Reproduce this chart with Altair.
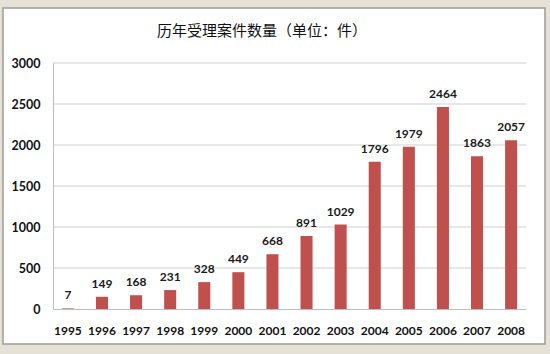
import altair as alt
import pandas as pd

years = ["1995", "1996", "1997", "1998", "1999", "2000", "2001",
         "2002", "2003", "2004", "2005", "2006", "2007", "2008"]
counts = [7, 149, 168, 231, 328, 449, 668, 891, 1029, 1796, 1979, 2464, 1863, 2057]
grid_values = [500, 1000, 1500, 2000, 2500, 3000]
title_text = "历年受理案件数量（单位：件）"

df = pd.DataFrame({"year": years, "count": counts})
grid_df = pd.DataFrame({"v": grid_values})

W, H = 473, 246

xscale = alt.Scale(domain=years, paddingInner=0.647, paddingOuter=0.26)
yscale = alt.Scale(domain=[0, 3000], nice=False)

panel = alt.Chart(alt.Data(values=[{}])).mark_rect(
    fill="white", stroke="#9c9c9c", strokeWidth=1.5
).encode(
    x=alt.value(-50), x2=alt.value(492), y=alt.value(-55), y2=alt.value(281)
)

title = alt.Chart(alt.Data(values=[{}])).mark_text(
    font="Noto Sans CJK SC", fontSize=15, color="#111111",
    align="center", baseline="middle"
).encode(
    x=alt.value(209), y=alt.value(-32), text=alt.value(title_text)
)

grid = alt.Chart(grid_df).mark_rule(color="#cfcfcf", strokeWidth=1).encode(
    y=alt.Y("v:Q", scale=yscale),
    x=alt.value(0), x2=alt.value(W),
)

bars = alt.Chart(df).mark_bar(color="#c0504d").encode(
    x=alt.X("year:N", scale=xscale, sort=years,
            axis=alt.Axis(title=None, labelAngle=0, ticks=False, labelPadding=16,
                          labelFont="Lato", labelFontWeight="bold", labelFontSize=12,
                          labelColor="#111111", domainColor="#bdbdbd", zindex=1)),
    y=alt.Y("count:Q", scale=yscale,
            axis=alt.Axis(title=None, values=[0, 500, 1000, 1500, 2000, 2500, 3000],
                          format="d", grid=False, ticks=False, labelPadding=13,
                          labelFont="Lato", labelFontWeight="bold", labelFontSize=12.5,
                          labelColor="#111111", domainColor="#bdbdbd", zindex=1)),
)

labels = alt.Chart(df).mark_text(
    font="Lato", fontWeight="bold", fontSize=12, color="#1a1a1a",
    baseline="alphabetic", dy=-9
).encode(
    x=alt.X("year:N", scale=xscale, sort=years),
    y=alt.Y("count:Q", scale=yscale),
    text="count:Q",
)

chart = alt.layer(panel, title, grid, bars, labels).properties(
    width=W, height=H,
    autosize=alt.AutoSizeParams(type="none"),
    padding={"left": 53, "top": 63, "right": 24, "bottom": 45},
    background="#e5e1d7",
).configure_view(stroke=None)

chart.save("out.html", embed_options={"renderer": "svg", "actions": False})
